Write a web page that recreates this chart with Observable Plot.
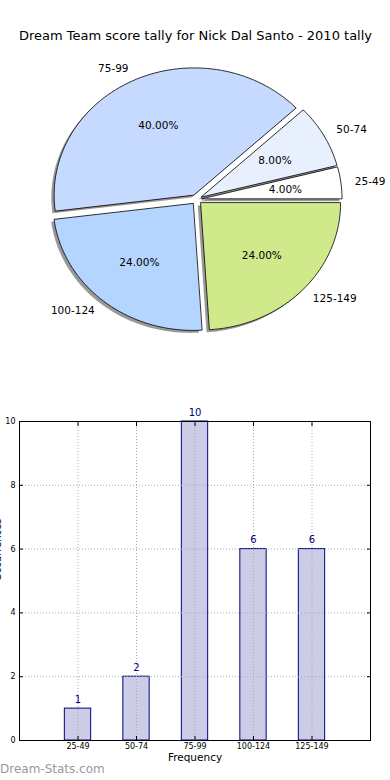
<!DOCTYPE html>
<html><head><meta charset="utf-8">
<script src="https://cdn.jsdelivr.net/npm/d3@7"></script>
<script src="https://cdn.jsdelivr.net/npm/@observablehq/plot@0.6"></script>
<style>
body{margin:0;background:#fff;font-family:"DejaVu Sans",sans-serif;}
#wrap{position:relative;width:390px;height:780px;overflow:hidden;background:#fff;}
#pie{position:absolute;left:0;top:0;}
#bar{position:absolute;left:0;top:400px;}
#wm{position:absolute;left:0;top:762px;font-size:12px;color:#999;font-family:"DejaVu Sans",sans-serif;}
</style></head><body>
<div id="wrap"><div id="pie"></div><div id="bar"></div><div id="wm">Dream-Stats.com</div></div>
<script>
const title = "Dream Team score tally for Nick Dal Santo - 2010 tally";
const categories = ["25-49","50-74","75-99","100-124","125-149"];
const counts = [1,2,10,6,6];
const sliceColors = ["#ffffff","#e9f0fd","#c6d9fe","#b4d5ff","#d0ea8b"];
const yTicks = [0,2,4,6,8,10];
const xLabel = "Frequency";
const yLabel = "Occurrences";
const watermark = "Dream-Stats.com";

// pie geometry (ellipse radii in px, explode fraction, shadow offset)
const RX = 140, RY = 127, EXPLODE = 0.04, SHADOW = [-2.8, -2.5];
const total = d3.sum(counts);
let acc = 0;
const slices = counts.map((c, i) => {
  const a0 = acc / total * 360; acc += c; const a1 = acc / total * 360;
  const mid = (a0 + a1) / 2 * Math.PI / 180;
  return {i, cat: categories[i], count: c, pct: c / total * 100, a0, a1, mid,
    ox: EXPLODE * RX * Math.cos(mid), oy: EXPLODE * RY * Math.sin(mid)};
});
const poly = [];
for (const s of slices) {
  poly.push({i: s.i, x: s.ox, y: s.oy});
  const n = Math.max(8, Math.ceil((s.a1 - s.a0) / 2));
  for (let k = 0; k <= n; k++) {
    const t = (s.a0 + (s.a1 - s.a0) * k / n) * Math.PI / 180;
    poly.push({i: s.i, x: s.ox + RX * Math.cos(t), y: s.oy + RY * Math.sin(t)});
  }
}
const lx = (d, f) => d.ox + f * RX * Math.cos(d.mid);
const ly = (d, f) => d.oy + f * RY * Math.sin(d.mid);
const font = {fontFamily: "'DejaVu Sans', sans-serif", background: "white"};

const pie = Plot.plot({
  width: 390, height: 400, margin: 0, style: font,
  x: {domain: [-196, 194], range: [0, 390], axis: null},
  y: {domain: [-201, 199], range: [400, 0], axis: null},
  color: {type: "identity"},
  marks: [
    Plot.line(poly, {x: d => d.x + SHADOW[0], y: d => d.y + SHADOW[1], z: "i", fill: "#333", fillOpacity: 0.5, stroke: "none", curve: "linear-closed"}),
    Plot.line(poly, {x: "x", y: "y", z: "i", fill: d => sliceColors[d.i], stroke: "black", strokeWidth: 0.8, curve: "linear-closed"}),
    Plot.text(slices, {x: d => lx(d, 0.6), y: d => ly(d, 0.6), text: d => d.pct.toFixed(2) + "%", fontSize: 10.5, fill: "black"}),
    Plot.text(slices.filter(d => Math.cos(d.mid) >= 0), {x: d => lx(d, 1.1), y: d => ly(d, 1.1), text: "cat", textAnchor: "start", fontSize: 10.5, fill: "black"}),
    Plot.text(slices.filter(d => Math.cos(d.mid) < 0), {x: d => lx(d, 1.1), y: d => ly(d, 1.1), text: "cat", textAnchor: "end", fontSize: 10.5, fill: "black"}),
    Plot.text([title], {frameAnchor: "top", dy: 30, text: d => d, fontSize: 13, fill: "black"})
  ]
});
document.getElementById("pie").append(pie);

const bars = categories.map((c, i) => ({i, cat: c, count: counts[i]}));
const idx = categories.map((c, i) => i);
const BW = 0.45;
const grid = {stroke: "#aaa", strokeOpacity: 1, strokeDasharray: "1,2"};
const bar = Plot.plot({
  width: 390, height: 380, marginTop: 21, marginBottom: 40, marginLeft: 19, marginRight: 20, style: font,
  x: {domain: [-1, 5]}, y: {domain: [0, 10]},
  marks: [
    Plot.rectY(bars, {x1: d => d.i - BW / 2, x2: d => d.i + BW / 2, y: "count", fill: "#ccccE6", stroke: "#000080", strokeWidth: 1}),
    Plot.gridX(idx, grid),
    Plot.gridY(yTicks, grid),
    Plot.text(bars, {x: "i", y: "count", text: d => String(d.count), dy: -9, fill: "#000080", fontSize: 10}),
    Plot.axisY(yTicks, {anchor: "left", tickSize: -4, tickPadding: 8, fontSize: 8, label: null, tickFormat: d => String(d)}),
    Plot.axisY(yTicks, {anchor: "right", tickSize: -4, tickFormat: () => "", label: null}),
    Plot.axisX(idx, {anchor: "bottom", tickSize: -4, tickPadding: 7, fontSize: 8, label: null, tickFormat: i => categories[i]}),
    Plot.axisX(idx, {anchor: "top", tickSize: -4, tickFormat: () => "", label: null}),
    Plot.text([xLabel], {frameAnchor: "bottom", dy: 20, text: d => d, fontSize: 10.5, fill: "black"}),
    Plot.text([yLabel], {frameAnchor: "left", dx: -22, rotate: -90, text: d => d, fontSize: 10, fill: "black"}),
    Plot.frame({stroke: "black"})
  ]
});
document.getElementById("bar").append(bar);
document.getElementById("wm").textContent = watermark;
</script>
</body></html>
